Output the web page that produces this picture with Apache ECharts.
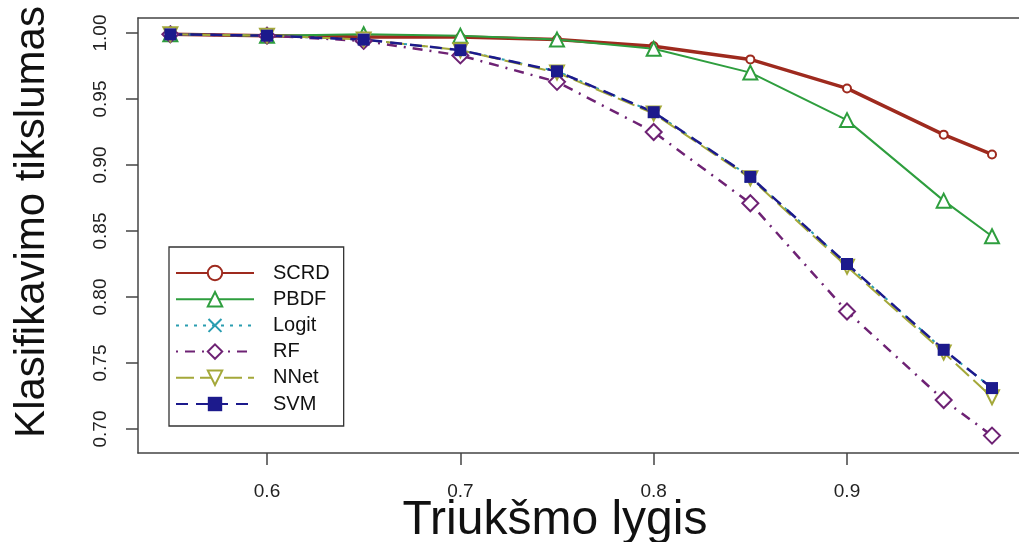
<!DOCTYPE html>
<html>
<head>
<meta charset="utf-8">
<script src="https://cdn.jsdelivr.net/npm/echarts@6/dist/echarts.min.js"></script>
<style>
  html, body { margin: 0; padding: 0; background: #fff; }
  #chart { width: 1019px; height: 542px; }
</style>
</head>
<body>
<div id="chart"></div>
<script>
// noise level (x) and classification accuracy per method
var noise = [0.55, 0.6, 0.65, 0.7, 0.75, 0.8, 0.85, 0.9, 0.95, 0.975];
var scrd  = [0.999, 0.998, 0.997, 0.997, 0.995, 0.990, 0.980, 0.958, 0.923, 0.908];
var pbdf  = [0.999, 0.998, 0.999, 0.998, 0.995, 0.988, 0.970, 0.934, 0.873, 0.846];
var logit = [0.999, 0.998, 0.995, 0.987, 0.971, 0.940, 0.891, 0.825, 0.760, 0.731];
var rf    = [0.999, 0.998, 0.994, 0.983, 0.963, 0.925, 0.871, 0.789, 0.722, 0.695];
var nnet  = [0.999, 0.998, 0.995, 0.987, 0.970, 0.939, 0.890, 0.823, 0.758, 0.724];
var svm   = [0.999, 0.998, 0.995, 0.987, 0.971, 0.940, 0.891, 0.825, 0.760, 0.731];

var xTicks = [0.6, 0.7, 0.8, 0.9];
var yTicks = [0.70, 0.75, 0.80, 0.85, 0.90, 0.95, 1.00];

var FONT = 'Liberation Sans, Arial, sans-serif';
var AXIS_COLOR = '#444';

function pairs(ys) {
  return noise.map(function (x, i) { return [x, ys[i]]; });
}

var chart = echarts.init(document.getElementById('chart'), null, { renderer: 'canvas' });

var crossPath = 'path://M2,0 L10,8 L18,0 L20,2 L12,10 L20,18 L18,20 L10,12 L2,20 L0,18 L8,10 L0,2 Z';

var option = {
  animation: false,
  backgroundColor: '#fff',
  grid: { left: 138, top: 18, right: 0, bottom: 89, containLabel: false },
  xAxis: [
    {
      type: 'value',
      min: 0.53327,
      max: 0.98896,
      splitLine: { show: false },
      axisLine: { show: true, lineStyle: { color: AXIS_COLOR, width: 1.5 } },
      axisTick: { show: true, inside: false, length: 12, customValues: xTicks, lineStyle: { color: AXIS_COLOR, width: 1.5 } },
      axisLabel: {
        customValues: xTicks,
        margin: 29,
        color: '#222',
        fontFamily: FONT,
        fontSize: 19,
        formatter: function (v) { return v.toFixed(1); }
      }
    },
    {
      type: 'value',
      position: 'top',
      min: 0.53327,
      max: 0.98896,
      splitLine: { show: false },
      axisLine: { show: true, lineStyle: { color: AXIS_COLOR, width: 1.5 } },
      axisTick: { show: false },
      axisLabel: { show: false }
    }
  ],
  yAxis: {
    type: 'value',
    min: 0.68182,
    max: 1.01136,
    splitLine: { show: false },
    axisLine: { show: true, lineStyle: { color: AXIS_COLOR, width: 1.5 } },
    axisTick: { show: true, inside: false, length: 12, customValues: yTicks, lineStyle: { color: AXIS_COLOR, width: 1.5 } },
    axisLabel: {
      customValues: yTicks,
      rotate: 90,
      margin: 28,
      color: '#222',
      fontFamily: FONT,
      fontSize: 19,
      formatter: function (v) { return v.toFixed(2); }
    }
  },
  legend: {
    orient: 'vertical',
    left: 169,
    top: 247,
    padding: [16, 14, 12, 6],
    itemWidth: 78,
    itemHeight: 18,
    itemGap: 6.2,
    borderColor: '#333',
    borderWidth: 1.3,
    backgroundColor: '#fff',
    textStyle: { fontFamily: FONT, fontSize: 20, color: '#111', padding: [0, 0, 0, 14] },
    data: ['SCRD', 'PBDF', 'Logit', 'RF', 'NNet', 'SVM']
  },
  graphic: [
    {
      type: 'text',
      x: 32,
      y: 222,
      rotation: Math.PI / 2,
      style: {
        text: 'Klasifikavimo tikslumas',
        font: '42px ' + FONT,
        fill: '#111',
        align: 'center',
        verticalAlign: 'middle'
      }
    },
    {
      type: 'text',
      x: 555,
      y: 521,
      style: {
        text: 'Triukšmo lygis',
        font: '48px ' + FONT,
        fill: '#111',
        align: 'center',
        verticalAlign: 'middle'
      }
    }
  ],
  series: [
    {
      name: 'SCRD', type: 'line', data: pairs(scrd),
      symbol: 'emptyCircle', symbolSize: 8,
      lineStyle: { color: '#9e2a1e', width: 3.5 },
      itemStyle: { color: '#9e2a1e', borderWidth: 3 }
    },
    {
      name: 'PBDF', type: 'line', data: pairs(pbdf),
      symbol: 'emptyTriangle', symbolSize: 14,
      lineStyle: { color: '#2e9e3e', width: 2 },
      itemStyle: { color: '#2e9e3e', borderWidth: 2 }
    },
    {
      name: 'Logit', type: 'line', data: pairs(logit),
      symbol: crossPath, symbolSize: 12,
      lineStyle: { color: '#2a9db0', width: 2, type: [3, 6] },
      itemStyle: { color: '#2a9db0' }
    },
    {
      name: 'RF', type: 'line', data: pairs(rf),
      symbol: 'emptyDiamond', symbolSize: 16,
      lineStyle: { color: '#6e2274', width: 2.5, type: [2, 7, 10, 7] },
      itemStyle: { color: '#6e2274', borderWidth: 2 }
    },
    {
      name: 'NNet', type: 'line', data: pairs(nnet),
      symbol: 'emptyTriangle', symbolRotate: 180, symbolSize: 14,
      lineStyle: { color: '#a4a83a', width: 2, type: [18, 6] },
      itemStyle: { color: '#a4a83a', borderWidth: 2 }
    },
    {
      name: 'SVM', type: 'line', data: pairs(svm),
      symbol: 'rect', symbolSize: 12,
      lineStyle: { color: '#1c1a8c', width: 2.5, type: [12, 8] },
      itemStyle: { color: '#1c1a8c' }
    }
  ]
};

chart.setOption(option);
window.addEventListener('resize', function () { chart.resize(); });
</script>
</body>
</html>
